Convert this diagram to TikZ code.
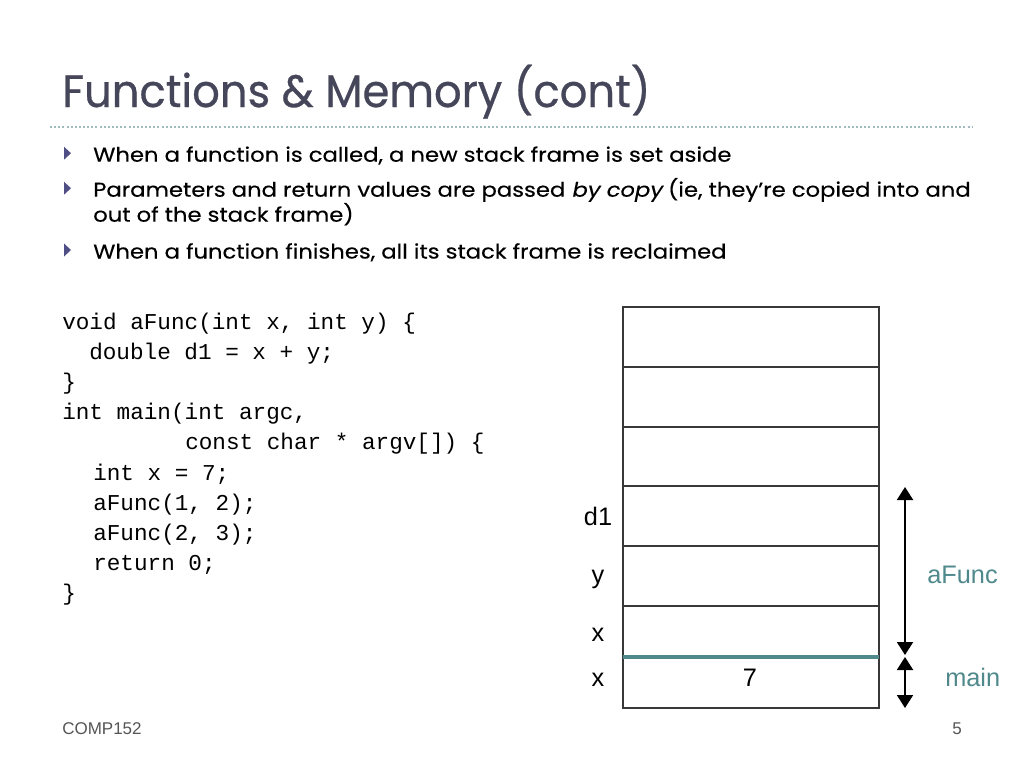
\documentclass[tikz,border=0pt]{standalone}
\usepackage{fontspec}
\setmainfont{Poppins}[ItalicFont=Poppins, ItalicFeatures={FakeSlant=0.2}]
\newfontfamily\titlefont{Poppins}[FakeStretch=0.955, FakeBold=0.6]
\newfontfamily\bulletfont{Poppins}[FakeStretch=1.135, FakeBold=0.3, ItalicFont=Poppins, ItalicFeatures={FakeSlant=0.2}]
\newfontfamily\codefont{Liberation Mono}
\newfontfamily\arialfont{Liberation Sans}
\usetikzlibrary{arrows.meta}
\definecolor{titlecol}{HTML}{46465A}
\definecolor{bulletcol}{HTML}{4F4F85}
\definecolor{tealcol}{HTML}{4F898C}
\definecolor{dotcol}{HTML}{A2BBBE}
\definecolor{footcol}{HTML}{555555}
\definecolor{cellcol}{HTML}{383838}
\begin{document}
\begin{tikzpicture}[x=0.75pt,y=-0.75pt,
  titletext/.style={anchor=base west,inner sep=0pt,text=titlecol,font=\titlefont\fontsize{34}{40}\selectfont},
  bullettext/.style={anchor=base west,inner sep=0pt,text=black,font=\bulletfont\fontsize{15}{18}\selectfont},
  bulletmark/.style={fill=bulletcol},
  codeline/.style={anchor=base west,inner sep=0pt,font=\codefont\fontsize{17}{20}\selectfont},
  stacklabel/.style={anchor=base,inner sep=0pt,font=\arialfont\fontsize{19}{22}\selectfont},
  framelabel/.style={anchor=base west,inner sep=0pt,text=tealcol,font=\arialfont\fontsize{19}{22}\selectfont},
  footer/.style={inner sep=0pt,text=footcol,font=\arialfont\fontsize{12.75}{15}\selectfont},
  cell/.style={draw=cellcol,line width=0.8pt},
  span/.style={line width=1.5pt,{Triangle[width=12pt,length=9.75pt]}-{Triangle[width=12pt,length=9.75pt]}}
]
\useasboundingbox (0,0) rectangle (1024,768);
\fill[white] (0,0) rectangle (1024,768);

% title
\node[titletext] (title) at (62,107) {Functions \& Memory (cont)};
\draw[dotcol,line width=1.4pt,dash pattern=on 1.5pt off 1.6pt] (50,127) -- (972,127);

% bullets
\foreach \b in {161.7,196.7,258.5}{
  \fill[bulletmark] (64,\b-15) -- (71,\b-8.5) -- (64,\b-2) -- cycle;
}
\node[bullettext] (b1) at (93,161.7) {When a function is called, a new stack frame is set aside};
\node[bullettext] (b2) at (93,196.7) {Parameters and return values are passed \textit{by copy} (ie, they’re copied into and};
\node[bullettext] (b2b) at (93,221.7) {out of the stack frame)};
\node[bullettext] (b3) at (93,258.5) {When a function finishes, all its stack frame is reclaimed};

% code
\node[codeline] (c1) at (62,329) {void aFunc(int x, int y) \{};
\node[codeline] (c2) at (89,359.2) {double d1 = x + y;};
\node[codeline] (c3) at (62,389.4) {\}};
\node[codeline] (c4) at (62,419.6) {int main(int argc,};
\node[codeline] (c5) at (185,449.8) {const char * argv[]) \{};
\node[codeline] (c6) at (93,480) {int x = 7;};
\node[codeline] (c7) at (93,510.2) {aFunc(1, 2);};
\node[codeline] (c8) at (93,540.4) {aFunc(2, 3);};
\node[codeline] (c9) at (93,570.6) {return 0;};
\node[codeline] (c10) at (62,600.8) {\}};

% stack
\draw[cell] (623,307) rectangle (879,708);
\foreach \yy in {367,427,486,546,606}{
  \draw[cell] (623,\yy) -- (879,\yy);
}
\draw[tealcol,line width=3pt] (623,657) -- (879,657);

\node[stacklabel] (ld1) at (598,525) {d1};
\node[stacklabel] (ly) at (598,583) {y};
\node[stacklabel] (lx1) at (598,641.5) {x};
\node[stacklabel] (lx2) at (598,686.5) {x};
\node[stacklabel] (v7) at (750,686.5) {7};

% frame spans
\coordinate (aTop) at (905,487);
\coordinate (aBot) at (905,655);
\coordinate (mTop) at (905,657);
\coordinate (mBot) at (905,708);
\draw[span] (aTop) -- (aBot);
\draw[span] (mTop) -- (mBot);
\node[framelabel] (afunc) at (927,583) {aFunc};
\node[framelabel] (mainl) at (945,686.5) {main};

% footer
\node[footer,anchor=base west] (foot) at (62,734) {COMP152};
\node[footer,anchor=base east] (page) at (962,734) {5};
\end{tikzpicture}
\end{document}
